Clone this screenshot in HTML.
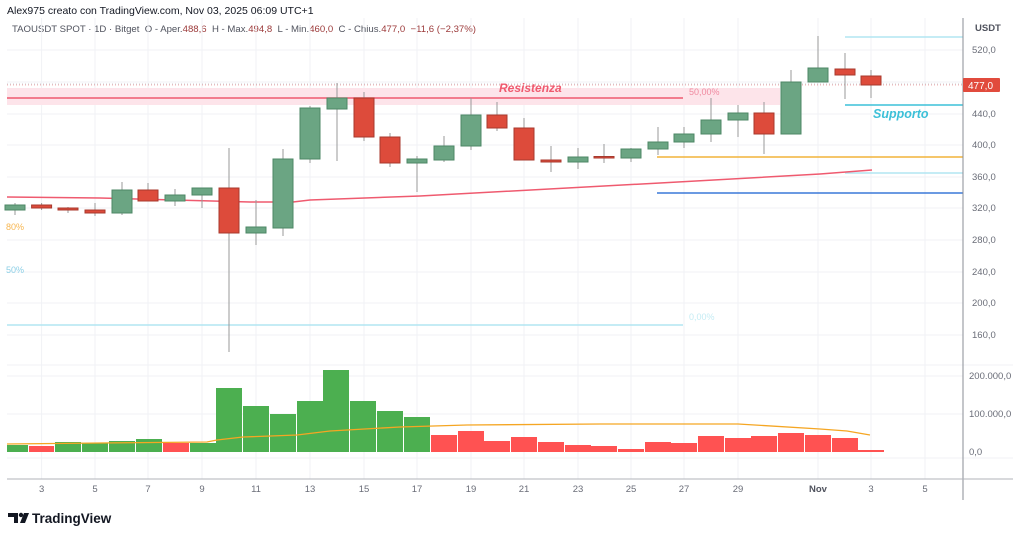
<!DOCTYPE html>
<html><head><meta charset="utf-8"><style>
html,body{margin:0;padding:0;background:#fff;width:1024px;height:538px;overflow:hidden}
svg{display:block;font-family:"Liberation Sans",sans-serif}
text{white-space:pre}
</style></head><body>
<svg width="1024" height="538" viewBox="0 0 1024 538" xmlns="http://www.w3.org/2000/svg">
<rect width="1024" height="538" fill="#fff"/>
<text x="7" y="14" font-size="10.5" fill="#131722">Alex975 creato con TradingView.com, Nov 03, 2025 06:09 UTC+1</text>
<text x="12" y="32" font-size="9.6" fill="#50535e">TAOUSDT SPOT · 1D · Bitget&#160;&#160;O - Aper.<tspan fill="#9c3a3a">488,6</tspan>&#160;&#160;H - Max.<tspan fill="#9c3a3a">494,8</tspan>&#160;&#160;L - Min.<tspan fill="#9c3a3a">460,0</tspan>&#160;&#160;C - Chius.<tspan fill="#9c3a3a">477,0</tspan>&#160;&#160;<tspan fill="#9c3a3a">−11,6 (−2,37%)</tspan></text>
<!-- grid -->
<g stroke="#f0f2f5" stroke-width="1">
<line x1="7" y1="50" x2="963" y2="50"/><line x1="7" y1="82" x2="963" y2="82"/><line x1="7" y1="114" x2="963" y2="114"/><line x1="7" y1="145" x2="963" y2="145"/><line x1="7" y1="177" x2="963" y2="177"/><line x1="7" y1="208" x2="963" y2="208"/><line x1="7" y1="240" x2="963" y2="240"/><line x1="7" y1="272" x2="963" y2="272"/><line x1="7" y1="303" x2="963" y2="303"/><line x1="7" y1="335" x2="963" y2="335"/>
<line x1="7" y1="365" x2="1013" y2="365"/><line x1="7" y1="376" x2="963" y2="376"/><line x1="7" y1="414" x2="963" y2="414"/><line x1="7" y1="458" x2="1013" y2="458"/>
<line x1="41.6" y1="18" x2="41.6" y2="479"/><line x1="95" y1="18" x2="95" y2="479"/><line x1="148" y1="18" x2="148" y2="479"/><line x1="202" y1="18" x2="202" y2="479"/><line x1="256" y1="18" x2="256" y2="479"/><line x1="310" y1="18" x2="310" y2="479"/><line x1="364" y1="18" x2="364" y2="479"/><line x1="417" y1="18" x2="417" y2="479"/><line x1="471" y1="18" x2="471" y2="479"/><line x1="524" y1="18" x2="524" y2="479"/><line x1="578" y1="18" x2="578" y2="479"/><line x1="631" y1="18" x2="631" y2="479"/><line x1="684" y1="18" x2="684" y2="479"/><line x1="738" y1="18" x2="738" y2="479"/><line x1="818" y1="18" x2="818" y2="479"/><line x1="871" y1="18" x2="871" y2="479"/><line x1="925" y1="18" x2="925" y2="479"/>
</g>
<!-- drawings -->
<rect x="7" y="88" width="773" height="17" fill="#fde4ea"/>
<line x1="7" y1="84" x2="963" y2="84" stroke="#c8cbd2" stroke-dasharray="1,2"/>
<line x1="7" y1="98" x2="683" y2="98" stroke="#ef5a6f" stroke-width="1.5"/>
<text x="499" y="92" font-size="12" font-weight="bold" font-style="italic" fill="#ef5a6f">Resistenza</text>
<text x="689" y="95" font-size="9" fill="#f08aa0">50,00%</text>
<line x1="845" y1="37" x2="963" y2="37" stroke="#b2e6f2" stroke-width="1.5"/>
<line x1="845" y1="105" x2="963" y2="105" stroke="#3cc0d8" stroke-width="1.5"/>
<text x="873" y="118" font-size="12.5" font-weight="bold" font-style="italic" fill="#3cc0d8">Supporto</text>
<line x1="657" y1="157" x2="963" y2="157" stroke="#f2b43a" stroke-width="1.5"/>
<line x1="845" y1="173" x2="963" y2="173" stroke="#b2e6f2" stroke-width="1.5"/>
<line x1="657" y1="193" x2="963" y2="193" stroke="#3a78d8" stroke-width="1.5"/>
<line x1="7" y1="325" x2="683" y2="325" stroke="#b2e6f2" stroke-width="1.5"/>
<text x="689" y="320" font-size="9" fill="#c5ecf4">0,00%</text>
<text x="6" y="230" font-size="9" fill="#f7b650">80%</text>
<text x="6" y="273" font-size="9" fill="#8ccfe6">50%</text>
<!-- MA -->
<polyline fill="none" stroke="#ef5a6f" stroke-width="1.5" points="7,197 100,198 250,202 293,202 310,200 420,196 660,183 820,174 872,170"/>
<line x1="7" y1="85" x2="963" y2="85" stroke="#ef5350" stroke-dasharray="1,2" stroke-width="0.8" opacity="0.6"/>
<!-- candles -->
<g stroke-width="1">
<g stroke="#999"><line x1="15" y1="203" x2="15" y2="215"/><line x1="41.6" y1="203" x2="41.6" y2="210"/><line x1="68" y1="207" x2="68" y2="213"/><line x1="95" y1="203" x2="95" y2="216"/><line x1="122" y1="182" x2="122" y2="215"/><line x1="148" y1="183" x2="148" y2="201"/><line x1="175" y1="189" x2="175" y2="206"/><line x1="202" y1="188" x2="202" y2="208"/><line x1="229" y1="148" x2="229" y2="352"/><line x1="256" y1="200" x2="256" y2="245"/><line x1="283" y1="149" x2="283" y2="236"/><line x1="310" y1="106" x2="310" y2="163"/><line x1="337" y1="83" x2="337" y2="161"/><line x1="364" y1="92" x2="364" y2="141"/><line x1="390" y1="133" x2="390" y2="167"/><line x1="417" y1="156" x2="417" y2="192"/><line x1="444" y1="136" x2="444" y2="162"/><line x1="471" y1="98" x2="471" y2="150"/><line x1="497" y1="102" x2="497" y2="131"/><line x1="524" y1="118" x2="524" y2="160"/><line x1="551" y1="146" x2="551" y2="172"/><line x1="578" y1="148" x2="578" y2="169"/><line x1="604" y1="144" x2="604" y2="163"/><line x1="631" y1="148" x2="631" y2="162"/><line x1="658" y1="127" x2="658" y2="155"/><line x1="684" y1="127" x2="684" y2="148"/><line x1="711" y1="98" x2="711" y2="142"/><line x1="738" y1="105" x2="738" y2="137"/><line x1="764" y1="102" x2="764" y2="154"/><line x1="791" y1="70" x2="791" y2="134"/><line x1="818" y1="36" x2="818" y2="82"/><line x1="845" y1="53" x2="845" y2="99"/><line x1="871" y1="70" x2="871" y2="98"/></g>
<g fill="#6ba583" stroke="#4d8766">
<rect x="5" y="205" width="20" height="5"/><rect x="112" y="190" width="20" height="23"/><rect x="165" y="195" width="20" height="6"/><rect x="192" y="188" width="20" height="7"/><rect x="246" y="227" width="20" height="6"/><rect x="273" y="159" width="20" height="69"/><rect x="300" y="108" width="20" height="51"/><rect x="327" y="98" width="20" height="11"/><rect x="407" y="159" width="20" height="4"/><rect x="434" y="146" width="20" height="14"/><rect x="461" y="115" width="20" height="31"/><rect x="568" y="157" width="20" height="5"/><rect x="621" y="149" width="20" height="9"/><rect x="648" y="142" width="20" height="7"/><rect x="674" y="134" width="20" height="8"/><rect x="701" y="120" width="20" height="14"/><rect x="728" y="113" width="20" height="7"/><rect x="781" y="82" width="20" height="52"/><rect x="808" y="68" width="20" height="14"/>
</g>
<g fill="#dd4b3b" stroke="#a83a2e">
<rect x="31.6" y="205" width="20" height="3"/><rect x="58" y="208" width="20" height="2"/><rect x="85" y="210" width="20" height="3"/><rect x="138" y="190" width="20" height="11"/><rect x="219" y="188" width="20" height="45"/><rect x="354" y="98" width="20" height="39"/><rect x="380" y="137" width="20" height="26"/><rect x="487" y="115" width="20" height="13"/><rect x="514" y="128" width="20" height="32"/><rect x="541" y="160" width="20" height="2"/><rect x="594" y="156.5" width="20" height="1.5"/><rect x="754" y="113" width="20" height="21"/><rect x="835" y="69" width="20" height="6"/><rect x="861" y="76" width="20" height="9"/>
</g>
</g>
<!-- volume -->
<g fill="#4caf50">
<rect x="7" y="445" width="21" height="7"/><rect x="55" y="442" width="26" height="10"/><rect x="82" y="443" width="26" height="9"/><rect x="109" y="441" width="26" height="11"/><rect x="136" y="439" width="26" height="13"/><rect x="190" y="443" width="26" height="9"/><rect x="216" y="388" width="26" height="64"/><rect x="243" y="406" width="26" height="46"/><rect x="270" y="414" width="26" height="38"/><rect x="297" y="401" width="26" height="51"/><rect x="323" y="370" width="26" height="82"/><rect x="350" y="401" width="26" height="51"/><rect x="377" y="411" width="26" height="41"/><rect x="404" y="417" width="26" height="35"/>
</g>
<g fill="#ff5252">
<rect x="29" y="446" width="25" height="6"/><rect x="163" y="443" width="26" height="9"/><rect x="431" y="435" width="26" height="17"/><rect x="458" y="431" width="26" height="21"/><rect x="484" y="441" width="26" height="11"/><rect x="511" y="437" width="26" height="15"/><rect x="538" y="442" width="26" height="10"/><rect x="565" y="445" width="26" height="7"/><rect x="591" y="446" width="26" height="6"/><rect x="618" y="449" width="26" height="3"/><rect x="645" y="442" width="26" height="10"/><rect x="671" y="443" width="26" height="9"/><rect x="698" y="436" width="26" height="16"/><rect x="725" y="438" width="26" height="14"/><rect x="751" y="436" width="26" height="16"/><rect x="778" y="433" width="26" height="19"/><rect x="805" y="435" width="26" height="17"/><rect x="832" y="438" width="26" height="14"/><rect x="858" y="450" width="26" height="2"/>
</g>
<polyline fill="none" stroke="#f5a623" stroke-width="1.3" points="7,444 100,443 207,442 217,440 243,437 297,435 330,431 400,427 467,425 600,424 738,424 820,429 847,431 870,435"/>
<!-- axes -->
<line x1="963" y1="18" x2="963" y2="500" stroke="#8a8d95"/>
<line x1="7" y1="479" x2="1013" y2="479" stroke="#b0b3b9"/>
<g font-size="9.5" fill="#6a6d78">
<text x="975" y="31" font-weight="bold" fill="#50535e">USDT</text>
<text x="972" y="53">520,0</text><text x="972" y="117">440,0</text><text x="972" y="148">400,0</text><text x="972" y="180">360,0</text><text x="972" y="211">320,0</text><text x="972" y="243">280,0</text><text x="972" y="275">240,0</text><text x="972" y="306">200,0</text><text x="972" y="338">160,0</text>
<text x="969" y="379">200.000,0</text><text x="969" y="417">100.000,0</text><text x="969" y="455">0,0</text>
</g>
<rect x="963" y="78" width="37" height="14" fill="#e14b3d" rx="1"/>
<text x="968" y="89" font-size="10" fill="#fff">477,0</text>
<g font-size="9.5" fill="#6a6d78" text-anchor="middle">
<text x="41.6" y="492">3</text><text x="95" y="492">5</text><text x="148" y="492">7</text><text x="202" y="492">9</text><text x="256" y="492">11</text><text x="310" y="492">13</text><text x="364" y="492">15</text><text x="417" y="492">17</text><text x="471" y="492">19</text><text x="524" y="492">21</text><text x="578" y="492">23</text><text x="631" y="492">25</text><text x="684" y="492">27</text><text x="738" y="492">29</text><text x="818" y="492" font-weight="bold" fill="#50535e">Nov</text><text x="871" y="492">3</text><text x="925" y="492">5</text>
</g>
<!-- logo -->
<g fill="#131722">
<path d="M8 513h10v10h-4v-6h-6z"/><circle cx="21" cy="515" r="2.2"/><path d="M24 513h5l-4 10h-5z"/>
</g>
<text x="32" y="523" font-size="13.5" font-weight="bold" fill="#131722">TradingView</text>
</svg>
</body></html>
